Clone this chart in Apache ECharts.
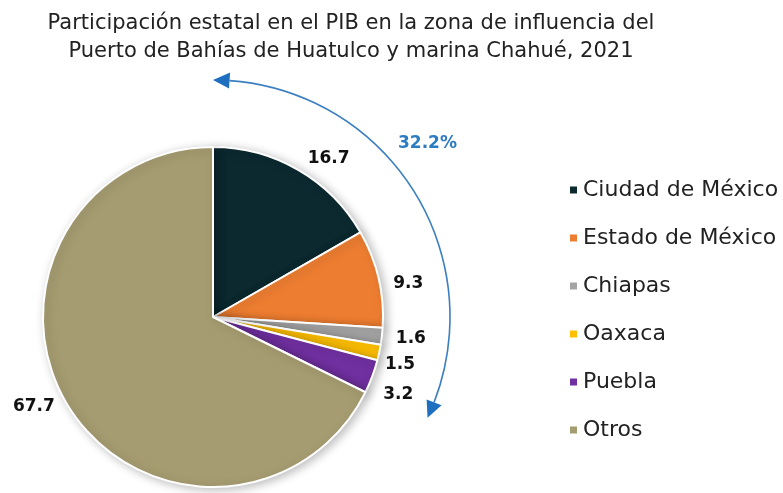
<!DOCTYPE html>
<html>
<head>
<meta charset="utf-8">
<script src="https://cdn.jsdelivr.net/npm/echarts@6/dist/echarts.min.js"></script>
<style>
  html, body { margin: 0; padding: 0; background: #fff; }
  #chart { width: 783px; height: 493px; }
</style>
</head>
<body>
<div id="chart"></div>
<script>
const estados = ["Ciudad de México", "Estado de México", "Chiapas", "Oaxaca", "Puebla", "Otros"];
const participacion = [16.7, 9.3, 1.6, 1.5, 3.2, 67.7];
const colores = ["#0c2930", "#ed7d31", "#a5a5a5", "#ffc000", "#7030a0", "#a69c71"];
const etiquetaArco = "32.2%";
// pequeños ajustes de posicion de las etiquetas [dx, dy]
const ajustes = [[-3, 2], [-5, 9], [-6, 1], [-14, 9], [-8, 13], [4, -8]];

const chart = echarts.init(document.getElementById("chart"));

// centro y radio del pastel
const cx = 213, cy = 317, radio = 170;
// arco azul que abarca los estados (sin "Otros")
const rArco = 237;
const totalEstados = participacion.slice(0, 5).reduce((a, b) => a + b, 0);
const aIni = -Math.PI / 2;
const aFin = aIni + totalEstados / 100 * Math.PI * 2 - 0.02;
const flecha = 0.07; // largo angular de la punta

function punta(angTip, dir) {
  // dir = -1 la punta va hacia atras (antihorario), 1 hacia adelante
  const tip = [cx + rArco * Math.cos(angTip), cy + rArco * Math.sin(angTip)];
  const aBase = angTip - dir * flecha;
  const bx = cx + rArco * Math.cos(aBase), by = cy + rArco * Math.sin(aBase);
  const nx = Math.cos(aBase), ny = Math.sin(aBase);
  const w = 8;
  return [tip, [bx + nx * w, by + ny * w], [bx - nx * w, by - ny * w]];
}

const option = {
  backgroundColor: "#fff",
  title: {
    text: "Participación estatal en el PIB en la zona de influencia del\nPuerto de Bahías de Huatulco y marina Chahué, 2021",
    left: 346,
    top: 5,
    textAlign: "center",
    textStyle: {
      fontFamily: "DejaVu Sans",
      fontSize: 21,
      fontWeight: "normal",
      color: "#222",
      lineHeight: 28
    }
  },
  legend: {
    orient: "vertical",
    left: 563,
    top: 173,
    itemWidth: 9,
    itemHeight: 9,
    itemGap: 24,
    icon: "rect",
    data: estados,
    textStyle: {
      fontFamily: "DejaVu Sans",
      fontSize: 22,
      color: "#222",
      lineHeight: 24
    }
  },
  series: [
    {
      type: "pie",
      center: [cx, cy],
      radius: radio,
      startAngle: 90,
      clockwise: true,
      animation: false,
      data: estados.map((n, i) => ({
        name: n,
        value: participacion[i],
        label: { offset: ajustes[i] }
      })),
      color: colores,
      itemStyle: {
        borderColor: "#fff",
        borderWidth: 2,
        shadowBlur: 10,
        shadowColor: "rgba(0,0,0,0.25)",
        shadowOffsetX: 3,
        shadowOffsetY: 2
      },
      label: {
        show: true,
        position: "outside",
        formatter: p => p.value.toFixed(1),
        fontFamily: "DejaVu Sans",
        fontWeight: "bold",
        fontSize: 17,
        color: "#111",
        overflow: "none"
      },
      labelLine: { show: false, length: 15, length2: 0 },
      emphasis: { disabled: true }
    }
  ],
  graphic: [
    {
      type: "arc",
      shape: { cx: cx, cy: cy, r: rArco, startAngle: aIni + flecha, endAngle: aFin - flecha, clockwise: true },
      style: { stroke: "#3b7fc0", lineWidth: 1.6, fill: null }
    },
    {
      type: "polygon",
      shape: { points: punta(aIni, -1) },
      style: { fill: "#1f6fc0" }
    },
    {
      type: "polygon",
      shape: { points: punta(aFin, 1) },
      style: { fill: "#1f6fc0" }
    },
    {
      type: "text",
      left: 398,
      top: 135,
      style: {
        text: etiquetaArco,
        fontFamily: "DejaVu Sans",
        fontWeight: "bold",
        fontSize: 17,
        fill: "#2d7cc1"
      }
    }
  ]
};

chart.setOption(option);
</script>
</body>
</html>
